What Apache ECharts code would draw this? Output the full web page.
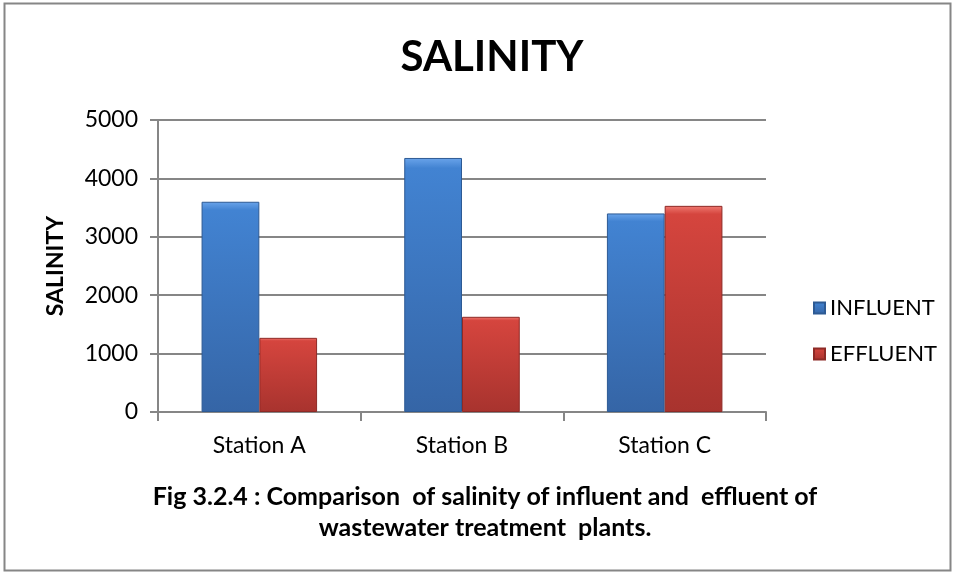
<!DOCTYPE html>
<html>
<head>
<meta charset="utf-8">
<script src="https://cdn.jsdelivr.net/npm/echarts@6/dist/echarts.min.js"></script>
<style>
  html, body { margin: 0; padding: 0; background: #fff; }
  #chart { width: 954px; height: 574px; }
</style>
</head>
<body>
<div id="chart"></div>
<script>
  const stations = ['Station A', 'Station B', 'Station C'];
  const influent = [3600, 4350, 3400];
  const effluent = [1270, 1630, 3530];
  const yTicks = [0, 1000, 2000, 3000, 4000, 5000];
  const captionLines = [
    'Fig 3.2.4 : Comparison  of salinity of influent and  effluent of',
    'wastewater treatment  plants.'
  ];

  const font = 'Lato, "Open Sans", sans-serif';

  function barFill(top, mid, bottom) {
    return new echarts.graphic.LinearGradient(0, 0, 0, 1, [
      { offset: 0, color: top },
      { offset: 0.04, color: mid },
      { offset: 1, color: bottom }
    ]);
  }

  const chart = echarts.init(document.getElementById('chart'));

  chart.setOption({
    backgroundColor: '#fff',
    animation: false,
    textStyle: { fontFamily: font },
    title: {
      text: 'SALINITY',
      left: 487,
      top: 31,
      textAlign: 'center',
      textStyle: { fontSize: 42, fontWeight: 'bold', color: '#000', fontFamily: font }
    },
    grid: { left: 158, right: 188, top: 120, bottom: 162 },
    legend: {
      orient: 'vertical',
      left: 808,
      top: 292,
      itemGap: 24,
      itemWidth: 11,
      itemHeight: 11,
      icon: 'rect',
      textStyle: { fontSize: 22, color: '#000', fontFamily: font },
      data: ['INFLUENT', 'EFFLUENT']
    },
    xAxis: {
      type: 'category',
      data: stations,
      axisLine: { lineStyle: { color: '#868686', width: 2 } },
      axisTick: { show: true, length: 9, lineStyle: { color: '#868686', width: 2 } },
      axisLabel: { fontSize: 23, color: '#000', margin: 22 }
    },
    yAxis: {
      type: 'value',
      min: yTicks[0],
      max: yTicks[yTicks.length - 1],
      interval: 1000,
      name: 'SALINITY',
      nameLocation: 'middle',
      nameGap: 91,
      nameRotate: 90,
      nameTextStyle: { fontSize: 23, fontWeight: 'bold', color: '#000' },
      axisLine: { show: true, lineStyle: { color: '#868686', width: 2 } },
      axisTick: { show: true, length: 8, lineStyle: { color: '#868686', width: 2 } },
      axisLabel: { fontSize: 23, color: '#000', margin: 20, formatter: (v) => String(v) },
      splitLine: { lineStyle: { color: '#868686', width: 2 } }
    },
    series: [
      {
        name: 'INFLUENT',
        type: 'bar',
        data: influent,
        barGap: '0%',
        barCategoryGap: '43%',
        itemStyle: {
          color: barFill('#6aa4ea', '#4283d2', '#3565a6'),
          borderColor: '#2d5a94',
          borderWidth: 1
        }
      },
      {
        name: 'EFFLUENT',
        type: 'bar',
        data: effluent,
        itemStyle: {
          color: barFill('#f07a72', '#d5453e', '#a8332e'),
          borderColor: '#8e2a26',
          borderWidth: 1
        }
      }
    ],
    graphic: [
      {
        type: 'rect',
        shape: { x: 4.5, y: 3.5, width: 946, height: 567 },
        style: { fill: 'none', stroke: '#868686', lineWidth: 2 },
        silent: true
      },
      {
        type: 'text',
        x: 485,
        y: 481,
        style: {
          text: captionLines.join('\n'),
          fontSize: 25,
          fontWeight: 'bold',
          fontFamily: font,
          fill: '#000',
          align: 'center',
          verticalAlign: 'top',
          lineHeight: 31
        }
      }
    ]
  });
</script>
</body>
</html>
